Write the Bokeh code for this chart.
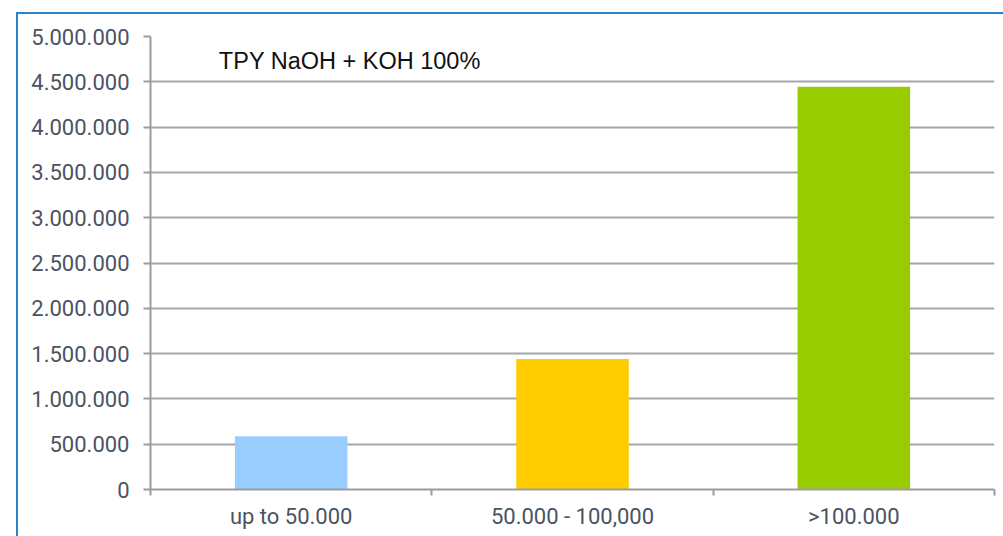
from bokeh.plotting import figure
from bokeh.models import FixedTicker, Range1d, Label, Spacer
from bokeh.layouts import column, row
from bokeh.embed import file_html
from bokeh.resources import INLINE

categories = ["up to 50.000", "50.000 - 100,000", ">100.000"]
values = [588000, 1440000, 4445000]
colors = ["#99ccff", "#ffcc00", "#99cc00"]
y_ticks = [0, 500000, 1000000, 1500000, 2000000, 2500000, 3000000, 3500000, 4000000, 4500000, 5000000]
y_labels = ["0", "500.000", "1.000.000", "1.500.000", "2.000.000", "2.500.000",
            "3.000.000", "3.500.000", "4.000.000", "4.500.000", "5.000.000"]
title_text = "TPY NaOH + KOH 100%"

FONT = "Roboto"
LABEL_COLOR = "#4a5363"
AXIS_COLOR = "#9a9ca3"
GRID_COLOR = "#a4a5ad"
BLUE = "#2a82c9"

p = figure(frame_width=842, frame_height=451, width=985, height=522,
           min_border_left=132, min_border_right=11, min_border_top=22, min_border_bottom=49,
           x_range=Range1d(0, len(categories)), y_range=Range1d(0, 5000000),
           output_backend="svg", toolbar_location=None)
p.styles = {"border-left": f"2px solid {BLUE}", "border-top": f"2px solid {BLUE}",
            "border-right": "none", "border-bottom": "none"}
p.outline_line_color = None
p.background_fill_color = "white"
p.border_fill_color = "white"

xs = [i + 0.5 for i in range(len(categories))]
p.vbar(x=xs, top=values, width=0.4, color=colors, line_color=None)

# y axis
p.yaxis.ticker = FixedTicker(ticks=y_ticks, minor_ticks=[])
p.yaxis.major_label_overrides = {t: l for t, l in zip(y_ticks, y_labels)}
p.yaxis.axis_line_color = AXIS_COLOR
p.yaxis.axis_line_width = 2
p.yaxis.major_tick_line_color = AXIS_COLOR
p.yaxis.major_tick_line_width = 2
p.yaxis.major_tick_out = 7
p.yaxis.major_tick_in = 0
p.yaxis.minor_tick_line_color = None
p.yaxis.major_label_standoff = 14
p.yaxis.major_label_text_font = FONT
p.yaxis.major_label_text_font_size = "22px"
p.yaxis.major_label_text_color = LABEL_COLOR

# x axis: labels at centres, ticks at boundaries
p.xaxis.ticker = FixedTicker(ticks=xs, minor_ticks=list(range(len(categories) + 1)))
p.xaxis.major_label_overrides = {x: c for x, c in zip(xs, categories)}
p.xaxis.axis_line_color = AXIS_COLOR
p.xaxis.axis_line_width = 2
p.xaxis.major_tick_line_color = None
p.xaxis.major_tick_out = 0
p.xaxis.major_tick_in = 0
p.xaxis.minor_tick_line_color = AXIS_COLOR
p.xaxis.minor_tick_line_width = 2
p.xaxis.minor_tick_out = 6
p.xaxis.minor_tick_in = 0
p.xaxis.major_label_standoff = 8
p.xaxis.major_label_text_font = FONT
p.xaxis.major_label_text_font_size = "22px"
p.xaxis.major_label_text_color = LABEL_COLOR

p.xgrid.grid_line_color = None
p.ygrid.grid_line_color = GRID_COLOR
p.ygrid.grid_line_width = 2

p.add_layout(Label(x=0.243, y=4734000, text=title_text, text_font="Liberation Sans",
                   text_font_size="23.5px", text_color="#111111", text_baseline="middle"))

layout = column(Spacer(height=12), row(Spacer(width=16), p))
open("out.html", "w").write(file_html(layout, INLINE))
